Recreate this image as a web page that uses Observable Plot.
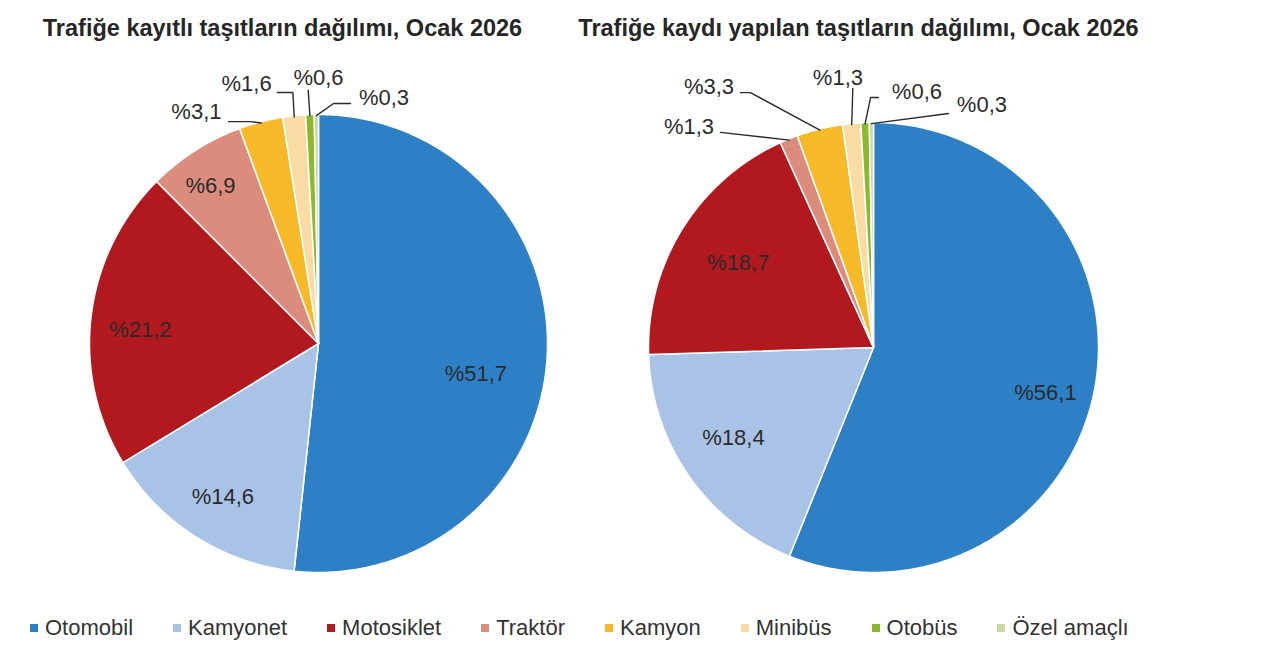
<!DOCTYPE html>
<html>
<head>
<meta charset="utf-8">
<script src="https://cdn.jsdelivr.net/npm/d3@7"></script>
<script src="https://cdn.jsdelivr.net/npm/@observablehq/plot@0.6"></script>
<style>
  html, body { margin: 0; padding: 0; background: #fff; }
  #root { position: relative; width: 1280px; height: 658px; background: #fff; font-family: "Liberation Sans", Arial, sans-serif; color: #262626; overflow: hidden; }
  .title { position: absolute; width: 800px; text-align: center; font-weight: bold; font-size: 23.5px; line-height: 23.5px; top: 17px; white-space: nowrap; color: #262626; }
  .pie { position: absolute; top: 55px; }
  #legend { position: absolute; left: 30px; top: 617px; display: flex; align-items: center; gap: 40px; font-size: 22px; line-height: 22px; color: #333; white-space: nowrap; }
  .item { display: flex; align-items: center; }
  .sw { width: 8px; height: 8px; margin-right: 7px; display: inline-block; }
</style>
</head>
<body>
<div id="root">
  <div class="title" id="t1"></div>
  <div class="title" id="t2"></div>
  <div class="pie" id="p1"></div>
  <div class="pie" id="p2"></div>
  <div id="legend"></div>
</div>
<script>
// ---- data ----
const categories = ["Otomobil", "Kamyonet", "Motosiklet", "Traktör", "Kamyon", "Minibüs", "Otobüs", "Özel amaçlı"];
const colors = ["#2e80c6", "#a9c3e7", "#b1191f", "#dc8c7c", "#f6b928", "#f9dca4", "#8cb92b", "#c8d9a2"];
const kayitliValues = [51.7, 14.6, 21.2, 6.9, 3.1, 1.6, 0.6, 0.3];
const kaydiYapilanValues = [56.1, 18.4, 18.7, 1.3, 3.3, 1.3, 0.6, 0.3];
const titles = ["Trafiğe kayıtlı taşıtların dağılımı, Ocak 2026", "Trafiğe kaydı yapılan taşıtların dağılımı, Ocak 2026"];

// ---- layout (styling) ----
const SVG_W = 640, SVG_H = 555, SVG_TOP = 55;
const pieLayouts = [
  { el: "p1", left: 0, cx: 318, cy: 343 - SVG_TOP, r: 229, titleEl: "t1", titleCenter: 282.5,
    inside: { "Otomobil": [0.70, 7.9], "Kamyonet": [0.79, -0.5], "Motosiklet": [0.78, -2.6], "Traktör": [0.835, -1.8] },
    callouts: {
      "Kamyon": { text: [-0.533, 1.009], path: [[-0.393, 0.969], [-0.297, 0.969]] },
      "Minibüs": { text: [-0.314, 1.135], path: [[-0.179, 1.096], [-0.112, 1.096]] },
      "Otobüs": { text: [0.0, 1.158], path: [[-0.045, 1.106]] },
      "Özel amaçlı": { text: [0.286, 1.072], path: [[0.140, 1.048], [0.066, 1.048]] }
    } },
  { el: "p2", left: 640, cx: 873 - 640, cy: 347 - SVG_TOP, r: 225, titleEl: "t2", titleCenter: 858.5,
    inside: { "Otomobil": [0.79, 3.7], "Kamyonet": [0.74, 2.2], "Motosiklet": [0.71, 0.3] },
    callouts: {
      "Traktör": { text: [-0.82, 0.978], path: [[-0.68, 0.956]] },
      "Kamyon": { text: [-0.731, 1.16], path: [[-0.591, 1.133], [-0.547, 1.133]] },
      "Minibüs": { text: [-0.158, 1.198], path: [[-0.092, 1.151]] },
      "Otobüs": { text: [0.193, 1.136], path: [[0.022, 1.111], [-0.013, 1.111]] },
      "Özel amaçlı": { text: [0.482, 1.076], path: [[0.333, 1.04]] }
    } }
];

const fmt = v => "%" + v.toFixed(1).replace(".", ",");

function drawPie(values, L, title) {
  const total = d3.sum(values);
  let cum = 0;
  const slices = categories.map((name, i) => {
    const a0 = cum / total * 2 * Math.PI;
    cum += values[i];
    const a1 = cum / total * 2 * Math.PI;
    return { name, value: values[i], a0, a1, mid: (a0 + a1) / 2 };
  });
  // slice outlines
  const pts = [];
  for (const s of slices) {
    pts.push({ name: s.name, x: 0, y: 0 });
    const n = Math.max(2, Math.ceil((s.a1 - s.a0) / (Math.PI / 360)));
    for (let k = 0; k <= n; k++) {
      const a = s.a0 + (s.a1 - s.a0) * k / n;
      pts.push({ name: s.name, x: Math.sin(a), y: Math.cos(a) });
    }
  }
  // labels
  const labels = [];
  const leaders = [];
  for (const s of slices) {
    if (L.inside[s.name]) {
      const [rf, da] = L.inside[s.name];
      const a = s.mid + da * Math.PI / 180;
      labels.push({ x: rf * Math.sin(a), y: rf * Math.cos(a), text: fmt(s.value) });
    } else if (L.callouts[s.name]) {
      const c = L.callouts[s.name];
      labels.push({ x: c.text[0], y: c.text[1], text: fmt(s.value) });
      c.path.forEach(p => leaders.push({ id: s.name, x: p[0], y: p[1] }));
      leaders.push({ id: s.name, x: 0.995 * Math.sin(s.mid), y: 0.995 * Math.cos(s.mid) });
    }
  }
  const chart = Plot.plot({
    width: SVG_W, height: SVG_H, margin: 0,
    x: { domain: [-L.cx / L.r, (SVG_W - L.cx) / L.r], axis: null },
    y: { domain: [-(SVG_H - L.cy) / L.r, L.cy / L.r], axis: null },
    color: { domain: categories, range: colors },
    style: { background: "transparent", fontFamily: "'Liberation Sans', Arial, sans-serif" },
    marks: [
      Plot.line(pts, { x: "x", y: "y", z: "name", fill: "name", stroke: "#ffffff", strokeWidth: 1.5, strokeLinejoin: "round", curve: "linear-closed" }),
      Plot.line(leaders, { x: "x", y: "y", z: "id", stroke: "#2b2b2b", strokeWidth: 1.4 }),
      Plot.text(labels, { x: "x", y: "y", text: "text", fontSize: 22, fill: "#2b2b2b" })
    ]
  });
  const holder = document.getElementById(L.el);
  holder.style.left = L.left + "px";
  holder.appendChild(chart);
  const t = document.getElementById(L.titleEl);
  t.textContent = title;
  t.style.left = (L.titleCenter - 400) + "px";
}

drawPie(kayitliValues, pieLayouts[0], titles[0]);
drawPie(kaydiYapilanValues, pieLayouts[1], titles[1]);

// legend
const legend = document.getElementById("legend");
categories.forEach((c, i) => {
  const it = document.createElement("div");
  it.className = "item";
  const sw = document.createElement("span");
  sw.className = "sw";
  sw.style.background = colors[i];
  it.appendChild(sw);
  it.appendChild(document.createTextNode(c));
  legend.appendChild(it);
});
</script>
</body>
</html>
